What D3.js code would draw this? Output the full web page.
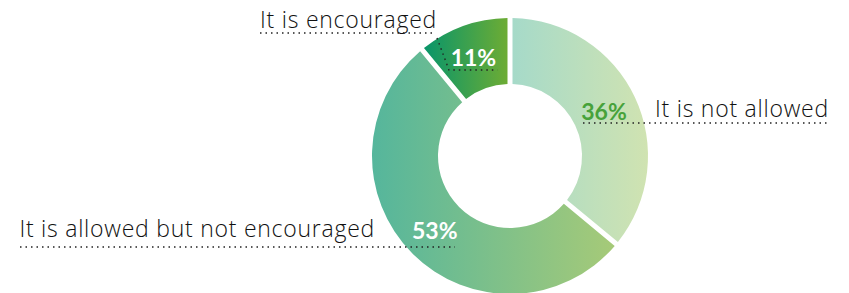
<!DOCTYPE html>
<html>
<head>
<meta charset="utf-8">
<script src="https://cdn.jsdelivr.net/npm/d3@7"></script>
<style>
  body { margin: 0; background: #fff; }
  text { font-family: Lato, "Open Sans", sans-serif; }
  text.cat { font-family: "Open Sans", Lato, sans-serif; letter-spacing: 0.75px; }
</style>
</head>
<body>
<div id="chart"></div>
<script>
// data
const categories = ["It is not allowed", "It is allowed but not encouraged", "It is encouraged"]
const values = [36, 53, 11]
const gradStart = ["#a6dac9", "#55b69c", "#08956a"]
const gradEnd = ["#d0e3b1", "#a6ca78", "#6dac34"]
const pctColors = ["#47a23a", "#ffffff", "#ffffff"]

const width = 849
const height = 293
const cx = 510, cy = 156
const outerR = 138, innerR = 72

const svg = d3.select("#chart").append("svg")
    .attr("width", width)
    .attr("height", height)

const defs = svg.append("defs")
categories.forEach((c, i) => {
    const g = defs.append("linearGradient")
        .attr("id", "grad" + i)
        .attr("x1", "0%").attr("x2", "100%")
        .attr("y1", "0%").attr("y2", "0%")
    g.append("stop").attr("offset", "0%").attr("stop-color", gradStart[i])
    g.append("stop").attr("offset", "100%").attr("stop-color", gradEnd[i])
})

const pie = d3.pie().sort(null).value(d => d)
const arcs = pie(values)

const arc = d3.arc()
    .innerRadius(innerR)
    .outerRadius(outerR)
    .padRadius(100)
    .padAngle(0.05)

const g = svg.append("g").attr("transform", `translate(${cx},${cy})`)

g.selectAll("path.slice")
    .data(arcs)
    .enter()
    .append("path")
    .attr("class", "slice")
    .attr("d", arc)
    .attr("fill", (d, i) => `url(#grad${i})`)

// label layout (offsets relative to chart centre)
const labelCfg = [
    { x: 145, y: -39, anchor: "start", lineFrom: 73, lineTo: 318, lineY: -33 },
    { x: -135, y: 81, anchor: "end", lineFrom: -490, lineTo: -55, lineY: 91 },
    { x: -73, y: -128, anchor: "end", lineFrom: -250, lineTo: -75, lineY: -123 }
]

const dotted = "1.5,4"

// percent labels at slice centroids
g.selectAll("text.pct")
    .data(arcs)
    .enter()
    .append("text")
    .attr("class", "pct")
    .attr("x", d => arc.centroid(d)[0] - 1)
    .attr("y", d => arc.centroid(d)[1])
    .attr("dy", "0.36em")
    .attr("text-anchor", "middle")
    .attr("font-size", 23)
    .attr("font-weight", 700)
    .attr("fill", (d, i) => pctColors[i])
    .text(d => d.data + "%")

// category labels
g.selectAll("text.cat")
    .data(categories)
    .enter()
    .append("text")
    .attr("class", "cat")
    .attr("x", (d, i) => labelCfg[i].x)
    .attr("y", (d, i) => labelCfg[i].y)
    .attr("text-anchor", (d, i) => labelCfg[i].anchor)
    .attr("font-size", 23)
    .attr("font-weight", 300)
    .attr("fill", "#111")
    .text(d => d)

// underlines
g.selectAll("line.under")
    .data(labelCfg)
    .enter()
    .append("line")
    .attr("class", "under")
    .attr("x1", d => d.lineFrom)
    .attr("x2", d => d.lineTo)
    .attr("y1", d => d.lineY)
    .attr("y2", d => d.lineY)
    .attr("stroke", "#222")
    .attr("stroke-width", 1.4)
    .attr("stroke-dasharray", dotted)

// leader for the small slice
const c2 = arc.centroid(arcs[2])
g.append("path")
    .attr("d", `M-73,-118 L-61,-86 L${c2[0] + 23},-86`)
    .attr("fill", "none")
    .attr("stroke", "#222")
    .attr("stroke-width", 1.4)
    .attr("stroke-dasharray", dotted)
</script>
</body>
</html>
